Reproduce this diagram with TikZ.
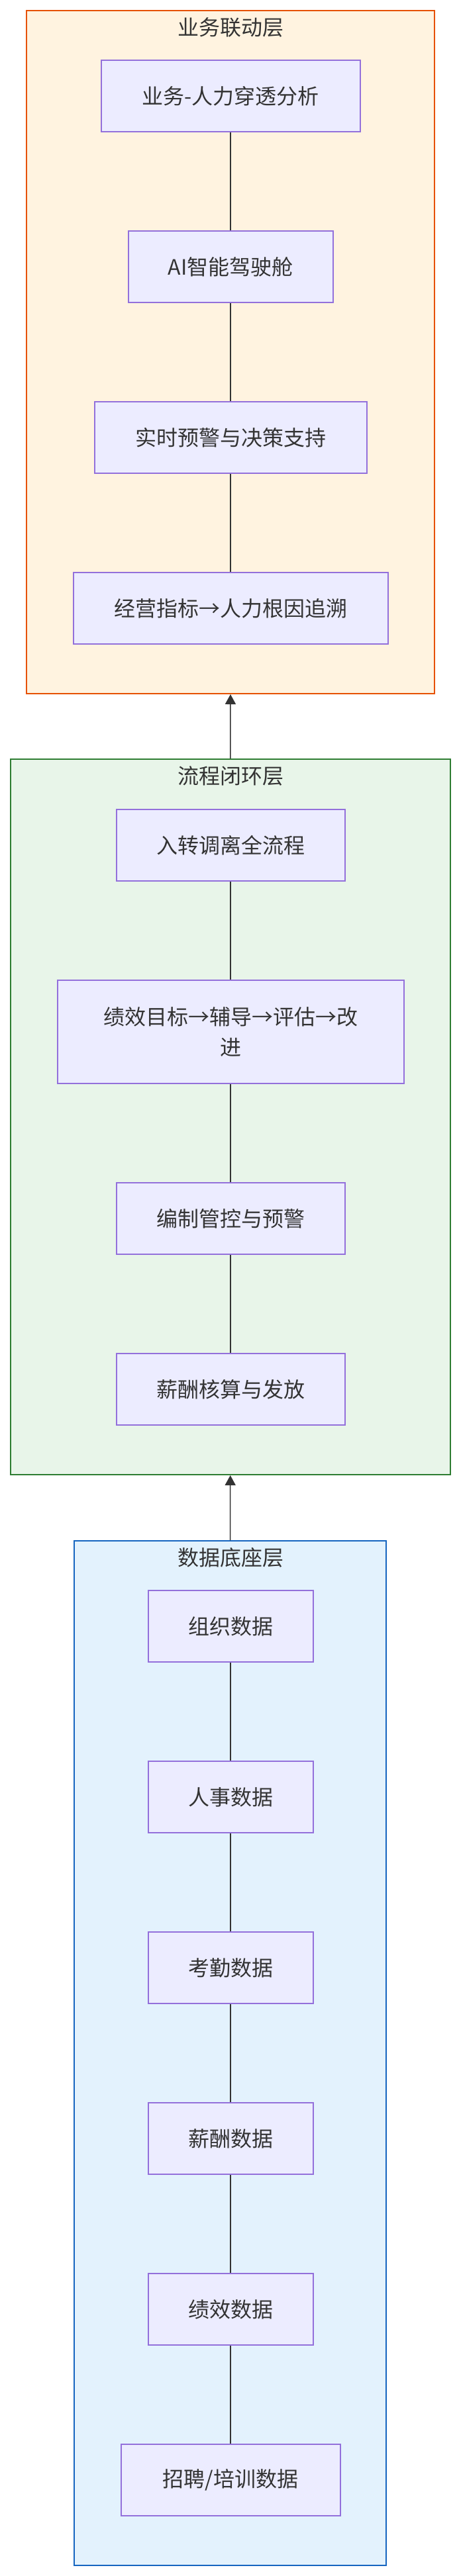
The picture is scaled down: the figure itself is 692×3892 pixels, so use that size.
\documentclass[tikz,border=0pt]{standalone}
\usepackage{fontspec}
\usepackage{tikz}
\usetikzlibrary{arrows.meta}
\newfontfamily\cjk{Noto Sans CJK SC}
\definecolor{txtgray}{HTML}{333333}
\definecolor{boxfill}{HTML}{ECECFF}
\definecolor{boxline}{HTML}{9370DB}
\definecolor{bizfill}{HTML}{FFF3E0}
\definecolor{bizline}{HTML}{E65100}
\definecolor{flowfill}{HTML}{E8F5E9}
\definecolor{flowline}{HTML}{2E7D32}
\definecolor{datafill}{HTML}{E3F2FD}
\definecolor{dataline}{HTML}{1565C0}

\begin{document}
\begin{tikzpicture}[x=0.5pt, y=-0.5pt,
    every node/.style={font=\cjk\fontsize{16pt}{23pt}\selectfont, text=txtgray},
    item/.style={draw=boxline, fill=boxfill, line width=1pt, minimum height=54pt, inner sep=0pt, align=center},
    layer/.style={line width=1pt, inner sep=0pt},
    link/.style={draw=txtgray, line width=0.75pt},
    up/.style={link, -{Triangle[width=8pt,length=7.5pt]}}]
      \useasboundingbox (0,0) rectangle (692,3892);

      % 1. 三个分层的底框
      \node[layer, draw=bizline, fill=bizfill, minimum width=308pt, minimum height=516pt] (biz) at (348,532) {};
      \node[layer, draw=flowline, fill=flowfill, minimum width=332.25pt, minimum height=540.5pt] (flow) at (347.75,1687.5) {};
      \node[layer, draw=dataline, fill=datafill, minimum width=235.5pt, minimum height=774pt] (data) at (347.5,3102) {};

      % 2. 分层标题
      \node (bizT) at (348,41) {业务联动层};
      \node (flowT) at (348,1172) {流程闭环层};
      \node (dataT) at (348,2353) {数据底座层};

      % 3. 业务联动层
      \node[item, minimum width=195.5pt] (a1) at (348,145) {业务-人力穿透分析};
      \node[item, minimum width=154.5pt] (a2) at (348,403) {AI智能驾驶舱};
      \node[item, minimum width=205.5pt] (a3) at (348,661) {实时预警与决策支持};
      \node[item, minimum width=237.5pt] (a4) at (348,919) {经营指标→人力根因追溯};

      % 4. 流程闭环层
      \node[item, minimum width=172.5pt] (b1) at (348,1277) {入转调离全流程};
      \node[item, minimum width=261.5pt, minimum height=78pt] (b2) at (348,1559) {绩效目标→辅导→评估→改\\进};
      \node[item, minimum width=172.5pt] (b3) at (348,1841) {编制管控与预警};
      \node[item, minimum width=172.5pt] (b4) at (348,2099) {薪酬核算与发放};

      % 5. 数据底座层
      \node[item, minimum width=124.5pt] (c1) at (348,2457) {组织数据};
      \node[item, minimum width=124.5pt] (c2) at (348,2715) {人事数据};
      \node[item, minimum width=124.5pt] (c3) at (348,2973) {考勤数据};
      \node[item, minimum width=124.5pt] (c4) at (348,3231) {薪酬数据};
      \node[item, minimum width=124.5pt] (c5) at (348,3489) {绩效数据};
      \node[item, minimum width=165.5pt] (c6) at (348,3747) {招聘/培训数据};

      % 6. 层内连线
      \draw[link] (a1) -- (a2) (a2) -- (a3) (a3) -- (a4);
      \draw[link] (b1) -- (b2) (b2) -- (b3) (b3) -- (b4);
      \draw[link] (c1) -- (c2) (c2) -- (c3) (c3) -- (c4) (c4) -- (c5) (c5) -- (c6);

      % 7. 层间箭头
      \draw[up] (flow.north) -- (biz.south);
      \draw[up] (data.north) -- (flow.south);
    \end{tikzpicture}
\end{document}
